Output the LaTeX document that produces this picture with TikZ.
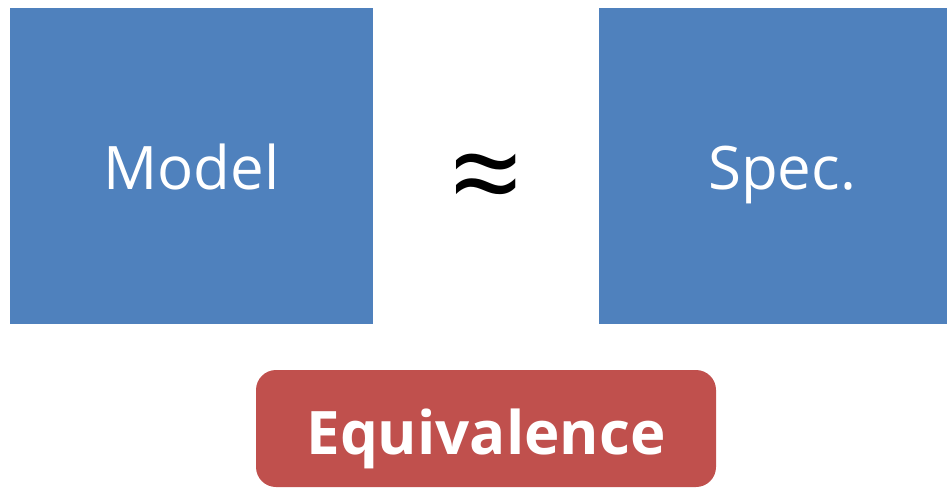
\documentclass[tikz,border=0pt]{standalone}
\usepackage{fontspec}
\setmainfont{Open Sans}
\definecolor{boxblue}{HTML}{4F81BD}
\definecolor{boxred}{HTML}{C0504D}
\tikzset{
  bluebox/.style={fill=boxblue, draw=none, inner sep=0pt, text=white, text height=50pt, text depth=3pt, font=\fontsize{60}{72}\selectfont},
  redbox/.style={fill=boxred, draw=none, rounded corners=20pt, inner sep=0pt, text=white, text height=54pt, text depth=3pt, font=\fontsize{60}{72}\selectfont\bfseries},
}
\begin{document}
\begin{tikzpicture}[x=1pt,y=-1pt]
\useasboundingbox (0,0) rectangle (947,488);
\node[bluebox, minimum width=363pt, minimum height=316pt] (model) at (191.5,165.5) {Model};
\node[bluebox, minimum width=366pt, minimum height=316pt] (spec) at (782,165.5) {Spec.};
\node[inner sep=0pt, font=\fontsize{125}{130}\selectfont] (approx) at (486,186) {≈};
\node[redbox, minimum width=460pt, minimum height=117pt] (equiv) at (486,428.5) {Equivalence};
\end{tikzpicture}
\end{document}
